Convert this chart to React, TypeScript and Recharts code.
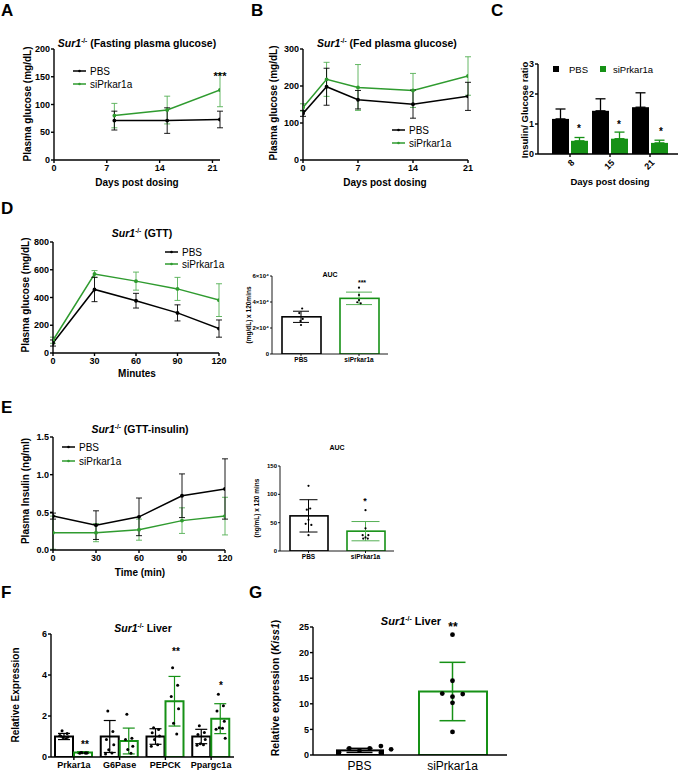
import React from 'react';
import {
  LineChart, Line, XAxis, YAxis, ErrorBar, BarChart, Bar, ComposedChart, Scatter,
} from 'recharts';

const FONT = "'Liberation Sans', Arial, Helvetica, sans-serif";
const INK = '#000000';
const GREEN = '#2f9b2f';
const GREEN_ERR = '#55b055';
const GREEN_FILL = '#169116';

// ---------- Panel A : fasting plasma glucose
const aDays = [8, 15, 22];
const aPbs = [71, 71, 73];
const aPbsErr = [17, 23, 15];
const aSi = [80, 90, 126];
const aSiErr = [22, 25, 30];
const aYTicks = [0, 50, 100, 150, 200];
const aXTicks = [0, 7, 14, 21];

// ---------- Panel B : fed plasma glucose
const bDays = [0, 3, 7, 14, 21];
const bPbs = [126, 198, 163, 151, 172];
const bPbsErr = [8, 50, 25, 38, 38];
const bSi = [142, 218, 196, 188, 227];
const bSiErr = [10, 46, 62, 46, 52];
const bYTicks = [0, 100, 200, 300];
const bXTicks = [0, 7, 14, 21];

// ---------- Panel C : insulin / glucose ratio
const cDays = ['8', '15', '21'];
const cPbs = [1.17, 1.44, 1.56];
const cPbsErr = [0.33, 0.4, 0.48];
const cSi = [0.44, 0.51, 0.37];
const cSiErr = [0.11, 0.22, 0.09];
const cYTicks = [0, 1, 2, 3];

// ---------- Panel D : GTT
const dMinutes = [0, 30, 60, 90, 120];
const dPbs = [72, 458, 377, 289, 176];
const dPbsErr = [22, 88, 53, 58, 62];
const dSi = [92, 569, 518, 462, 381];
const dSiErr = [22, 25, 65, 83, 118];
const dYTicks = [0, 200, 400, 600, 800];
const dXTicks = [0, 30, 60, 90, 120];

// D AUC
const aucGroups = ['PBS', 'siPrkar1a'];
const dAucMean = [28600, 42800];
const dAucErr = [4300, 4800];
const dAucPbsPts = [35000, 31500, 27000, 25400, 22300];
const dAucPbsJit = [0.02, -0.03, 0.03, -0.01, 0.0];
const dAucSiPts = [51000, 45400, 41500, 39800, 39000];
const dAucSiJit = [0.0, 0.0, 0.0, -0.03, 0.03];
const dAucYTicks = [0, 20000, 40000, 60000];

// ---------- Panel E : GTT insulin
const eMinutes = [0, 30, 60, 90, 120];
const ePbs = [0.45, 0.33, 0.44, 0.72, 0.81];
const ePbsErr = [0.04, 0.19, 0.25, 0.29, 0.4];
const eSi = [0.23, 0.23, 0.27, 0.39, 0.45];
const eSiErr = [0.22, 0.12, 0.14, 0.17, 0.25];
const eYTicks = [0, 0.5, 1.0, 1.5];

// E AUC
const eAucMean = [62, 35];
const eAucErr = [28.5, 17];
const eAucPbsPts = [115, 75, 73, 55, 48, 46, 28];
const eAucPbsJit = [0.0, 0.03, -0.03, 0.0, -0.05, 0.05, 0.0];
const eAucSiPts = [72, 40, 28, 28, 24, 22, 22];
const eAucSiJit = [0.0, 0.0, -0.05, 0.05, 0.0, -0.04, 0.04];
const eAucYTicks = [0, 50, 100, 150];

// ---------- Panel F : liver expression
const fGenes = ['Prkar1a', 'G6Pase', 'PEPCK', 'Ppargc1a'];
const fPbs = [1.0, 1.0, 1.0, 1.0];
const fPbsErr = [0.15, 0.78, 0.38, 0.35];
const fSi = [0.22, 0.78, 2.72, 1.87];
const fSiErr = [0.04, 0.63, 1.21, 0.73];
const fPbsPts = [
  [1.28, 1.15, 1.02, 0.98, 0.95, 0.9, 1.05],
  [2.25, 1.25, 0.85, 0.6, 0.35, 0.2, 0.15],
  [1.43, 1.34, 1.18, 1.02, 0.85, 0.6, 0.52],
  [1.52, 1.2, 1.1, 0.85, 0.65, 0.6, 0.57],
];
const fSiPts = [
  [0.22, 0.2, 0.18, 0.2, 0.21, 0.19],
  [2.08, 0.92, 0.85, 0.52, 0.36, 0.18],
  [4.35, 3.5, 2.95, 2.35, 1.65, 1.12],
  [3.06, 2.5, 2.25, 1.75, 1.43, 1.4, 1.35, 0.92],
];
const fJitter = [-0.05, 0.06, -0.08, 0.08, -0.03, 0.04, -0.1, 0.1];
const fYTicks = [0, 2, 4, 6];

// ---------- Panel G : Kiss1
const gMean = [0.9, 12.4];
const gErr = [0.4, 5.7];
const gPbsPts = [0.5, 1.3, 0.85, 1.3, 1.75, 0.45, 1.1];
const gPbsJit = [-0.22, -0.11, 0.0, 0.11, 0.23, 0.23, 0.34];
const gSiPts = [23.5, 14.5, 12.0, 11.4, 11.9, 10.2, 4.5];
const gSiJit = [0.0, 0.0, -0.11, 0.0, 0.11, 0.0, 0.0];
const gYTicks = [0, 5, 10, 15, 20, 25];

// ---------- helpers
type Rect = { l: number; t: number; r: number; b: number };
const frame = (p: Rect, yW: number, xH: number, mt = 14, mr = 14) => ({
  style: { position: 'absolute' as const, left: p.l - yW, top: p.t - mt },
  width: p.r - p.l + yW + mr,
  height: p.b - p.t + mt + xH,
  margin: { top: mt, right: mr, bottom: 0, left: 0 },
});

const AX = { stroke: INK, strokeWidth: 1.4 };
const TICK = { fill: INK, fontSize: 9, fontWeight: 700, fontFamily: FONT };
const SMALLTICK = { fill: INK, fontSize: 6, fontWeight: 700, fontFamily: FONT };

const lineRows = (xs: number[], p: number[], pe: number[], s: number[], se: number[]) =>
  xs.map((x, i) => ({ x, pbs: p[i], pbsErr: pe[i], si: s[i], siErr: se[i] }));

const dotShape = (r: number, color = INK) => (p: any) => (
  <circle cx={p.cx} cy={p.cy} r={r} fill={color} stroke="none" />
);
const noShape = () => <g />;

const outlined = (colors: string[], sw: number, widths?: number[]) => (p: any) => {
  const w = widths ? widths[p.index] : p.width;
  const x = p.x + p.width / 2 - w / 2;
  return <rect x={x} y={p.y} width={w} height={p.height} fill="#fff" stroke={colors[p.index]} strokeWidth={sw} />;
};

function LinePanel(props: {
  rect: Rect; rows: any[]; xDomain: number[]; xTicks: number[]; yDomain: number[]; yTicks: number[];
  yFmt?: (v: number) => string;
}) {
  const f = frame(props.rect, 40, 22);
  return (
    <div style={f.style}>
      <LineChart width={f.width} height={f.height} margin={f.margin} data={props.rows}>
        <XAxis dataKey="x" type="number" domain={props.xDomain} ticks={props.xTicks} interval={0} height={22}
          axisLine={AX} tickLine={AX} tickSize={3} tickMargin={2} tick={TICK} allowDataOverflow />
        <YAxis type="number" domain={props.yDomain} ticks={props.yTicks} interval={0} width={40}
          axisLine={AX} tickLine={AX} tickSize={3} tickMargin={1} tick={TICK} tickFormatter={props.yFmt} allowDataOverflow />
        <Line dataKey="si" stroke={GREEN} strokeWidth={1.5} dot={{ r: 1.2, fill: GREEN, stroke: GREEN }} isAnimationActive={false}>
          <ErrorBar dataKey="siErr" width={3} stroke={GREEN_ERR} strokeWidth={0.9} />
        </Line>
        <Line dataKey="pbs" stroke={INK} strokeWidth={1.5} dot={{ r: 1.2, fill: INK, stroke: INK }} isAnimationActive={false}>
          <ErrorBar dataKey="pbsErr" width={3} stroke={INK} strokeWidth={0.9} />
        </Line>
      </LineChart>
    </div>
  );
}

const RotTick = (props: any) => {
  const { x, y, payload } = props;
  const ax = x + 3;
  const ay = y + 2;
  return (
    <g transform={`translate(${ax},${ay}) rotate(-45)`}>
      <text x={0} y={3} textAnchor="end" fontSize={9} fontWeight={700} fontFamily={FONT} fill={INK}>{payload.value}</text>
    </g>
  );
};

function AucPanel(props: {
  rect: Rect; mean: number[]; err: number[]; pbsPts: number[]; pbsJit: number[]; siPts: number[]; siJit: number[];
  yDomain: number[]; yTicks: number[]; yFmt?: (v: number) => string; barW: number; capW: number[];
}) {
  const f = frame(props.rect, 30, 14, 10, 8);
  const rows = aucGroups.map((g, i) => ({ group: g, mean: props.mean[i] }));
  const pbsScatter = props.pbsPts.map((y, i) => ({ x: 0.5 + props.pbsJit[i], y }));
  const siScatter = props.siPts.map((y, i) => ({ x: 1.5 + props.siJit[i], y }));
  const errP = [{ x: 0.5, y: props.mean[0], e: props.err[0] }];
  const errS = [{ x: 1.5, y: props.mean[1], e: props.err[1] }];
  return (
    <div style={f.style}>
      <ComposedChart width={f.width} height={f.height} margin={f.margin} data={rows} barCategoryGap={0}>
        <XAxis xAxisId="cat" dataKey="group" height={14} axisLine={{ stroke: INK, strokeWidth: 0.9 }}
          tickLine={{ stroke: INK, strokeWidth: 0.9 }} tickSize={2} tickMargin={1} tick={{ ...SMALLTICK, fontSize: 6.5 }} interval={0} />
        <XAxis xAxisId="num" type="number" dataKey="x" domain={[0, 2]} hide allowDataOverflow />
        <YAxis type="number" domain={props.yDomain} ticks={props.yTicks} interval={0} width={30}
          axisLine={{ stroke: INK, strokeWidth: 0.9 }} tickLine={{ stroke: INK, strokeWidth: 0.9 }} tickSize={2} tickMargin={1}
          tick={SMALLTICK} tickFormatter={props.yFmt} allowDataOverflow />
        <Bar xAxisId="cat" dataKey="mean" barSize={props.barW} shape={outlined([INK, GREEN_FILL], 1.6)} isAnimationActive={false} />
        <Scatter xAxisId="num" data={errP} dataKey="y" shape={noShape} isAnimationActive={false}>
          <ErrorBar dataKey="e" direction="y" width={props.capW[0]} stroke={INK} strokeWidth={1} />
        </Scatter>
        <Scatter xAxisId="num" data={errS} dataKey="y" shape={noShape} isAnimationActive={false}>
          <ErrorBar dataKey="e" direction="y" width={props.capW[1]} stroke={GREEN_ERR} strokeWidth={1} />
        </Scatter>
        <Scatter xAxisId="num" data={pbsScatter} dataKey="y" shape={dotShape(1.1)} isAnimationActive={false} />
        <Scatter xAxisId="num" data={siScatter} dataKey="y" shape={dotShape(1.1)} isAnimationActive={false} />
      </ComposedChart>
    </div>
  );
}

// ---------- overlay text helpers
const Letter = ({ x, y, c }: { x: number; y: number; c: string }) => (
  <text x={x} y={y} fontSize={17} fontWeight={700} fontFamily={FONT} fill={INK}>{c}</text>
);
const Title = ({ x, y, rest, size = 10.5 }: { x: number; y: number; rest: string; size?: number }) => (
  <text x={x} y={y} textAnchor="middle" fontSize={size} fontWeight={700} fontFamily={FONT} fill={INK}>
    <tspan fontStyle="italic">Sur1</tspan>
    <tspan fontSize={size * 0.62} dy={-size * 0.4}>-/-</tspan>
    <tspan dy={size * 0.4}>{rest}</tspan>
  </text>
);
const YLab = ({ x, y, size = 10, children }: { x: number; y: number; size?: number; children: any }) => (
  <g transform={`translate(${x + size * 0.36},${y}) rotate(-90)`}>
    <text x={0} y={0} textAnchor="middle" fontSize={size} fontWeight={700} fontFamily={FONT} fill={INK}>{children}</text>
  </g>
);
const XLab = ({ x, y, size = 10, children }: { x: number; y: number; size?: number; children: any }) => (
  <text x={x} y={y} textAnchor="middle" fontSize={size} fontWeight={700} fontFamily={FONT} fill={INK}>{children}</text>
);
const Star = ({ x, y, s, size = 10 }: { x: number; y: number; s: string; size?: number }) => (
  <text x={x} y={y} textAnchor="middle" fontSize={size} fontWeight={700} fontFamily={FONT} fill={INK}>{s}</text>
);
const LineKey = ({ x, y, color, label }: { x: number; y: number; color: string; label: string }) => (
  <g>
    <line x1={x} y1={y} x2={x + 13} y2={y} stroke={color} strokeWidth={1.5} />
    <circle cx={x + 6.5} cy={y} r={1.3} fill={color} />
    <text x={x + 17} y={y + 3.6} fontSize={10} fontFamily={FONT} fill={INK}>{label}</text>
  </g>
);

export default function App() {
  const rowsA = lineRows(aDays, aPbs, aPbsErr, aSi, aSiErr);
  const rowsB = lineRows(bDays, bPbs, bPbsErr, bSi, bSiErr);
  const rowsD = lineRows(dMinutes, dPbs, dPbsErr, dSi, dSiErr);
  const rowsE = lineRows(eMinutes, ePbs, ePbsErr, eSi, eSiErr);

  const rowsC = cDays.map((d, i) => ({ day: d, pbs: cPbs[i], pbsErr: [0, cPbsErr[i]], si: cSi[i], siErr: [0, cSiErr[i]] }));
  const fC = frame({ l: 538, t: 64, r: 678, b: 154 }, 20, 24, 10, 1);

  const rowsF = fGenes.map((g, i) => ({ gene: g, pbs: fPbs[i], pbsErr: fPbsErr[i], si: fSi[i], siErr: fSiErr[i] }));
  const fPts: { x: number; y: number }[] = [];
  fGenes.forEach((_, gi) => {
    fPbsPts[gi].forEach((v, j) => fPts.push({ x: gi + 0.5 - 0.208 + fJitter[j], y: v }));
    fSiPts[gi].forEach((v, j) => fPts.push({ x: gi + 0.5 + 0.208 + fJitter[j], y: v }));
  });
  const fF = frame({ l: 51, t: 634, r: 234, b: 757 }, 30, 20, 10, 4);

  const rowsG = aucGroups.map((g, i) => ({ group: g, mean: gMean[i] }));
  const gPbsScatter = gPbsPts.map((y, i) => ({ x: 0.5 + gPbsJit[i], y }));
  const gSiScatter = gSiPts.map((y, i) => ({ x: 1.5 + gSiJit[i], y }));
  const fG = frame({ l: 313, t: 627, r: 507, b: 755 }, 30, 22, 10, 4);
  const gPad = { left: 0, right: 8 };

  const sciFmt = (v: number) => (v === 0 ? '0' : `${v / 10000}×10⁴`);

  return (
    <div style={{ position: 'absolute', left: 0, top: 0, width: 679, height: 778, background: '#fff', overflow: 'hidden' }}>
      <LinePanel rect={{ l: 54, t: 49, r: 220, b: 160 }} rows={rowsA} xDomain={[0, 22]} xTicks={aXTicks} yDomain={[0, 200]} yTicks={aYTicks} />
      <LinePanel rect={{ l: 303, t: 49, r: 468, b: 160 }} rows={rowsB} xDomain={[0, 21]} xTicks={bXTicks} yDomain={[0, 300]} yTicks={bYTicks} />

      <div style={fC.style}>
        <BarChart width={fC.width} height={fC.height} margin={fC.margin} data={rowsC} barGap={2} barSize={17}>
          <XAxis dataKey="day" padding={{ left: 12, right: 8 }} height={24} axisLine={AX} tickLine={AX} tickSize={3}
            tickMargin={2} tick={<RotTick />} interval={0} />
          <YAxis type="number" domain={[0, 3]} ticks={cYTicks} interval={0} width={20} axisLine={AX} tickLine={AX}
            tickSize={3} tickMargin={1} tick={TICK} allowDataOverflow />
          <Bar dataKey="pbs" fill={INK} isAnimationActive={false}>
            <ErrorBar dataKey="pbsErr" width={5} stroke={INK} strokeWidth={1.3} />
          </Bar>
          <Bar dataKey="si" fill={GREEN_FILL} isAnimationActive={false}>
            <ErrorBar dataKey="siErr" width={5} stroke={GREEN_FILL} strokeWidth={1.3} />
          </Bar>
        </BarChart>
      </div>

      <LinePanel rect={{ l: 53, t: 242, r: 219, b: 353 }} rows={rowsD} xDomain={[0, 120]} xTicks={dXTicks} yDomain={[0, 800]} yTicks={dYTicks} />
      <AucPanel rect={{ l: 272, t: 276, r: 388, b: 354 }} mean={dAucMean} err={dAucErr} pbsPts={dAucPbsPts} pbsJit={dAucPbsJit}
        siPts={dAucSiPts} siJit={dAucSiJit} yDomain={[0, 60000]} yTicks={dAucYTicks} yFmt={sciFmt} barW={39} capW={[8, 13]} />

      <LinePanel rect={{ l: 53, t: 437, r: 225, b: 550 }} rows={rowsE} xDomain={[0, 120]} xTicks={dXTicks} yDomain={[0, 1.5]} yTicks={eYTicks}
        yFmt={(v: number) => v.toFixed(1)} />
      <AucPanel rect={{ l: 280, t: 466, r: 394, b: 551 }} mean={eAucMean} err={eAucErr} pbsPts={eAucPbsPts} pbsJit={eAucPbsJit}
        siPts={eAucSiPts} siJit={eAucSiJit} yDomain={[0, 150]} yTicks={eAucYTicks} barW={38} capW={[9, 14]} />

      <div style={fF.style}>
        <ComposedChart width={fF.width} height={fF.height} margin={fF.margin} data={rowsF} barGap={1} barSize={18} barCategoryGap={0}>
          <XAxis xAxisId="cat" dataKey="gene" height={20} axisLine={AX} tickLine={AX} tickSize={3} tickMargin={2} tick={TICK} interval={0} />
          <XAxis xAxisId="num" type="number" dataKey="x" domain={[0, 4]} hide allowDataOverflow />
          <YAxis type="number" domain={[0, 6]} ticks={fYTicks} interval={0} width={30} axisLine={AX} tickLine={AX}
            tickSize={3} tickMargin={1} tick={TICK} allowDataOverflow />
          <Bar xAxisId="cat" dataKey="pbs" fill="#fff" stroke={INK} strokeWidth={2} isAnimationActive={false}>
            <ErrorBar dataKey="pbsErr" width={6} stroke={INK} strokeWidth={1.2} />
          </Bar>
          <Bar xAxisId="cat" dataKey="si" fill="#fff" stroke={GREEN_FILL} strokeWidth={2} isAnimationActive={false}>
            <ErrorBar dataKey="siErr" width={6} stroke={GREEN_FILL} strokeWidth={1.2} />
          </Bar>
          <Scatter xAxisId="num" data={fPts} dataKey="y" shape={dotShape(1.5)} isAnimationActive={false} />
        </ComposedChart>
      </div>

      <div style={fG.style}>
        <ComposedChart width={fG.width} height={fG.height} margin={fG.margin} data={rowsG} barCategoryGap={0}>
          <XAxis xAxisId="cat" dataKey="group" height={22} padding={gPad} axisLine={AX} tickLine={false} tickSize={3} tickMargin={3}
            tick={{ fill: INK, fontSize: 12, fontFamily: FONT }} interval={0} />
          <XAxis xAxisId="num" type="number" dataKey="x" domain={[0, 2]} padding={gPad} hide allowDataOverflow />
          <YAxis type="number" domain={[0, 25]} ticks={gYTicks} interval={0} width={30} axisLine={AX} tickLine={AX}
            tickSize={3} tickMargin={1} tick={TICK} allowDataOverflow />
          <Bar xAxisId="cat" dataKey="mean" barSize={68} shape={outlined([INK, GREEN_FILL], 2, [46, 68])} isAnimationActive={false} />
          <Scatter xAxisId="num" data={[{ x: 0.5, y: gMean[0], e: gErr[0] }]} dataKey="y" shape={noShape} isAnimationActive={false}>
            <ErrorBar dataKey="e" direction="y" width={13} stroke={INK} strokeWidth={1.5} />
          </Scatter>
          <Scatter xAxisId="num" data={[{ x: 1.5, y: gMean[1], e: gErr[1] }]} dataKey="y" shape={noShape} isAnimationActive={false}>
            <ErrorBar dataKey="e" direction="y" width={13} stroke={GREEN_FILL} strokeWidth={1.5} />
          </Scatter>
          <Scatter xAxisId="num" data={gPbsScatter} dataKey="y" shape={dotShape(2.4)} isAnimationActive={false} />
          <Scatter xAxisId="num" data={gSiScatter} dataKey="y" shape={dotShape(2.4)} isAnimationActive={false} />
        </ComposedChart>
      </div>

      <svg width={679} height={778} style={{ position: 'absolute', left: 0, top: 0, pointerEvents: 'none' }}>
        <Letter x={1} y={16} c="A" />
        <Letter x={251} y={16} c="B" />
        <Letter x={491} y={16} c="C" />
        <Letter x={1} y={214} c="D" />
        <Letter x={1} y={413} c="E" />
        <Letter x={1} y={598} c="F" />
        <Letter x={249} y={598} c="G" />

        <Title x={137} y={47} rest=" (Fasting plasma glucose)" />
        <Title x={387} y={47} rest=" (Fed plasma glucose)" />
        <Title x={142} y={237} rest=" (GTT)" />
        <Title x={140} y={433} rest=" (GTT-insulin)" />
        <Title x={143} y={632} rest=" Liver" />
        <Title x={411} y={625} rest=" Liver" size={11} />

        <YLab x={27} y={104}>Plasma glucose (mg/dL)</YLab>
        <YLab x={273} y={103}>Plasma glucose (mg/dL)</YLab>
        <YLab x={525} y={110} size={9.5}>Insulin/ Glucose ratio</YLab>
        <YLab x={25} y={295}>Plasma glucose (mg/dL)</YLab>
        <YLab x={249} y={315} size={6.5}>(mg/dL) x 120mins</YLab>
        <YLab x={25} y={491}>Plasma Insulin (ng/ml)</YLab>
        <YLab x={257} y={508} size={6.5}>(ng/mL) x 120 mins</YLab>
        <YLab x={15} y={695}>Relative Expression</YLab>
        <YLab x={275} y={688} size={10.5}>
          <tspan>Relative expression (</tspan><tspan fontStyle="italic">Kiss1</tspan><tspan>)</tspan>
        </YLab>

        <XLab x={137} y={186}>Days post dosing</XLab>
        <XLab x={385} y={186}>Days post dosing</XLab>
        <XLab x={610} y={185} size={9.5}>Days post dosing</XLab>
        <XLab x={137} y={377}>Minutes</XLab>
        <XLab x={140} y={576}>Time (min)</XLab>
        <XLab x={330} y={277} size={7}>AUC</XLab>
        <XLab x={337} y={450} size={7}>AUC</XLab>

        <LineKey x={73} y={71} color={INK} label="PBS" />
        <LineKey x={73} y={84} color={GREEN} label="siPrkar1a" />
        <LineKey x={392} y={130} color={INK} label="PBS" />
        <LineKey x={392} y={143} color={GREEN} label="siPrkar1a" />
        <LineKey x={165} y={252} color={INK} label="PBS" />
        <LineKey x={165} y={264} color={GREEN} label="siPrkar1a" />
        <LineKey x={62} y={447} color={INK} label="PBS" />
        <LineKey x={62} y={461} color={GREEN} label="siPrkar1a" />

        <rect x={553} y={66} width={6} height={6} fill={INK} />
        <text x={569} y={73} fontSize={9.5} fontFamily={FONT} fill={INK}>PBS</text>
        <rect x={600} y={66} width={6} height={6} fill={GREEN_FILL} />
        <text x={613} y={73} fontSize={9.5} fontFamily={FONT} fill={INK}>siPrkar1a</text>

        <Star x={220} y={80} s="***" size={11} />
        <Star x={579} y={132} s="*" />
        <Star x={619} y={128} s="*" />
        <Star x={661} y={135} s="*" />
        <Star x={362} y={285} s="***" size={7} />
        <Star x={365} y={504} s="*" size={9} />
        <Star x={85} y={748} s="**" />
        <Star x={176} y={655} s="**" />
        <Star x={221} y={689} s="*" />
        <Star x={453} y={631} s="**" size={12} />
      </svg>
    </div>
  );
}
